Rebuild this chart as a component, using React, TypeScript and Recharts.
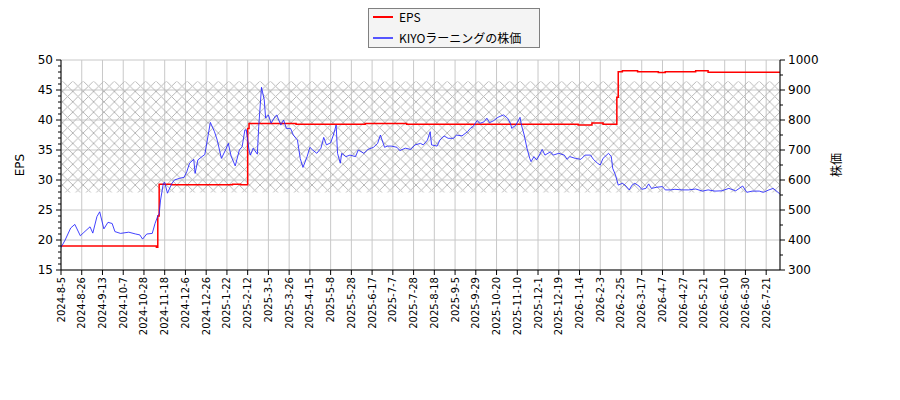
import { LineChart, Line, XAxis, YAxis, CartesianGrid, ReferenceArea } from 'recharts';

// x tick labels (one every 15 trading days)
const dateLabels = [
  '2024-8-5', '2024-8-26', '2024-9-13', '2024-10-7', '2024-10-28', '2024-11-18', '2024-12-6',
  '2024-12-26', '2025-1-22', '2025-2-12', '2025-3-5', '2025-3-26', '2025-4-15', '2025-5-8',
  '2025-5-28', '2025-6-17', '2025-7-7', '2025-7-28', '2025-8-18', '2025-9-5', '2025-9-29',
  '2025-10-20', '2025-11-10', '2025-12-1', '2025-12-19', '2026-1-14', '2026-2-3', '2026-2-25',
  '2026-3-17', '2026-4-7', '2026-4-27', '2026-5-21', '2026-6-10', '2026-6-30', '2026-7-21',
];
const lastDay = 520;

// [trading day, EPS]
const epsSeries: [number, number][] = [
  [0, 19.0], [69, 18.8], [70, 24.0], [71, 29.3], [80, 29.2], [124, 29.3], [130, 29.2],
  [135, 38.6], [136, 39.4], [170, 39.3], [220, 39.4], [250, 39.3], [374, 39.15], [384, 39.5],
  [392, 39.3], [402, 43.8], [403, 48.06], [406, 48.2], [417, 48.06], [432, 47.9], [437, 48.06],
  [459, 48.2], [468, 47.95], [520, 47.95],
];

// [trading day, share price]
const priceSeries: [number, number][] = [
  [0, 375], [3, 400], [7, 440], [10, 452], [14, 414], [16, 423], [21, 444], [23, 423], [26, 478],
  [28, 494], [31, 437], [34, 459], [37, 455], [39, 428], [43, 422], [49, 426], [54, 420], [57, 417],
  [59, 403], [62, 420], [66, 422], [68, 455], [70, 480], [71, 487], [72, 533], [74, 589], [75, 592],
  [77, 556], [80, 587], [82, 600], [86, 606], [89, 609], [91, 628], [93, 656], [96, 669], [97, 622],
  [99, 667], [102, 678], [104, 685], [105, 711], [108, 792], [111, 761], [113, 733], [116, 672],
  [119, 700], [121, 722], [123, 680], [126, 647], [129, 700], [131, 711], [133, 767], [134, 767],
  [136, 700], [137, 683], [139, 706], [142, 686], [143, 778], [145, 909], [147, 867], [148, 806],
  [150, 817], [152, 789], [154, 806], [156, 817], [159, 783], [161, 800], [163, 772], [166, 772],
  [168, 750], [171, 733], [173, 672], [175, 642], [178, 678], [180, 709], [182, 700], [185, 689],
  [188, 706], [190, 742], [192, 717], [195, 724], [197, 750], [199, 783], [200, 689], [202, 656],
  [203, 689], [206, 678], [209, 683], [213, 678], [215, 700], [219, 689], [222, 702], [226, 709],
  [229, 722], [231, 750], [234, 709], [236, 713], [239, 713], [243, 709], [245, 698], [249, 706],
  [253, 702], [256, 717], [260, 722], [262, 717], [265, 733], [267, 761], [268, 717], [272, 713],
  [274, 733], [277, 747], [280, 739], [284, 739], [286, 750], [290, 747], [294, 761], [296, 772],
  [298, 778], [301, 798], [303, 789], [306, 794], [308, 806], [310, 791], [313, 798], [316, 809],
  [320, 817], [323, 806], [325, 789], [326, 772], [329, 783], [332, 809], [333, 783], [335, 750],
  [337, 706], [339, 672], [340, 661], [342, 678], [344, 667], [346, 683], [348, 702], [350, 683],
  [354, 694], [356, 683], [360, 689], [364, 683], [366, 669], [368, 678], [372, 672], [376, 669],
  [379, 683], [383, 683], [385, 669], [388, 656], [390, 650], [392, 672], [396, 689], [398, 678],
  [399, 639], [401, 617], [403, 583], [406, 589], [408, 583], [411, 567], [413, 583], [415, 589],
  [418, 580], [420, 569], [423, 572], [425, 587], [427, 572], [431, 576], [435, 578], [437, 567],
  [441, 567], [444, 569], [449, 567], [454, 567], [459, 570], [464, 563], [468, 567], [473, 563],
  [478, 564], [483, 572], [488, 564], [493, 580], [496, 559], [500, 563], [505, 563], [508, 559],
  [512, 567], [515, 572], [518, 561], [520, 553],
];

// hatched band, in EPS units
const bandLow = 27.9;
const bandHigh = 46.4;

const epsTicks = Array.from({ length: 36 }, (_, k) => 15 + k);
const priceTicks = Array.from({ length: 15 }, (_, k) => 300 + k * 50);
const dayTicks = dateLabels.map((_, k) => k * 15);

const epsData = epsSeries.map(([day, eps]) => ({ day, eps }));
const priceData = priceSeries.map(([day, price]) => ({ day, price }));

const TICK_FONT = 'DejaVu Sans, sans-serif';
const HATCH = 10.4;

function LeftTick({ x, y, payload }: any) {
  const major = payload.value % 5 === 0;
  return (
    <g>
      <line x1={x} x2={x - (major ? 5 : 3)} y1={y} y2={y} stroke="#000" />
      {major && (
        <text x={x - 8} y={y} textAnchor="end" dominantBaseline="central" fontSize={12} fontFamily={TICK_FONT} fill="#000">
          {payload.value}
        </text>
      )}
    </g>
  );
}

function RightTick({ x, y, payload }: any) {
  const major = payload.value % 100 === 0;
  return (
    <g>
      <line x1={x} x2={x + (major ? 5 : 3)} y1={y} y2={y} stroke="#000" />
      {major && (
        <text x={x + 8} y={y} textAnchor="start" dominantBaseline="central" fontSize={12} fontFamily={TICK_FONT} fill="#000">
          {payload.value}
        </text>
      )}
    </g>
  );
}

function DateTick({ x, y, payload }: any) {
  const label = dateLabels[Math.round(payload.value / 15)];
  return (
    <g>
      <line x1={x} x2={x} y1={y} y2={y + 5} stroke="#000" />
      <text
        transform={`translate(${x},${y + 7}) rotate(-90)`}
        textAnchor="end"
        dominantBaseline="central"
        fontSize={10}
        fontFamily={TICK_FONT}
        fill="#000"
      >
        {label}
      </text>
    </g>
  );
}

export default function App() {
  return (
    <div style={{ position: 'absolute', left: 0, top: 0, width: 900, height: 400, background: '#fff', fontFamily: TICK_FONT }}>
      <LineChart width={900} height={400} margin={{ top: 60, right: 60, bottom: 50, left: 0 }}>
        <defs>
          <pattern id="xhatch" patternUnits="userSpaceOnUse" x={0} y={81} width={HATCH} height={HATCH}>
            <path
              d={`M0,0 L${HATCH},${HATCH} M0,${HATCH} L${HATCH},0`}
              stroke="#b4b4b4"
              strokeWidth={1}
              shapeRendering="crispEdges"
            />
          </pattern>
        </defs>
        <CartesianGrid
          yAxisId="left"
          stroke="#c8c8c8"
          strokeWidth={1}
          horizontalValues={[15, 20, 25, 30, 35, 40, 45, 50]}
        />
        <ReferenceArea
          yAxisId="left"
          x1={0}
          x2={lastDay}
          y1={bandLow}
          y2={bandHigh}
          fill="url(#xhatch)"
          fillOpacity={1}
          stroke="none"
        />
        <XAxis
          dataKey="day"
          type="number"
          domain={[0, lastDay]}
          ticks={dayTicks}
          interval={0}
          height={80}
          tickSize={0}
          tickMargin={0}
          tickLine={false}
          tick={<DateTick />}
          stroke="#000"
          allowDataOverflow
        />
        <YAxis
          yAxisId="left"
          orientation="left"
          domain={[15, 50]}
          ticks={epsTicks}
          interval={0}
          width={61}
          tickSize={0}
          tickMargin={0}
          tickLine={false}
          tick={<LeftTick />}
          stroke="#000"
          allowDataOverflow
        />
        <YAxis
          yAxisId="right"
          orientation="right"
          domain={[300, 1000]}
          ticks={priceTicks}
          interval={0}
          width={60}
          tickSize={0}
          tickMargin={0}
          tickLine={false}
          tick={<RightTick />}
          stroke="#000"
          allowDataOverflow
        />
        <Line
          yAxisId="left"
          data={epsData}
          dataKey="eps"
          type="stepAfter"
          stroke="#ff0000"
          strokeWidth={1.5}
          dot={false}
          isAnimationActive={false}
        />
        <Line
          yAxisId="right"
          data={priceData}
          dataKey="price"
          type="linear"
          stroke="#2222ff"
          strokeOpacity={0.85}
          strokeWidth={1}
          dot={false}
          isAnimationActive={false}
        />
        <text
          transform="translate(20,165) rotate(-90)"
          textAnchor="middle"
          dominantBaseline="central"
          fontSize={12}
          fontFamily={TICK_FONT}
        >
          EPS
        </text>
        <text
          transform="translate(835,165) rotate(-90)"
          textAnchor="middle"
          dominantBaseline="central"
          fontSize={12}
          fontFamily="Noto Sans CJK JP, sans-serif"
        >
          株価
        </text>
      </LineChart>
      <div
        style={{
          position: 'absolute',
          left: 368,
          top: 8,
          width: 170,
          height: 38,
          border: '1px solid #808080',
          background: '#f4f4f4',
          fontFamily: 'Noto Sans CJK JP, sans-serif',
          fontSize: 12,
          color: '#000',
        }}
      >
        <div style={{ position: 'absolute', left: 4, top: 7, width: 20, height: 2, background: '#ff0000' }} />
        <div style={{ position: 'absolute', left: 30, top: 0, lineHeight: '16px' }}>EPS</div>
        <div style={{ position: 'absolute', left: 4, top: 28, width: 20, height: 2, background: '#5555ff' }} />
        <div style={{ position: 'absolute', left: 30, top: 21, lineHeight: '16px' }}>KIYOラーニングの株価</div>
      </div>
    </div>
  );
}
